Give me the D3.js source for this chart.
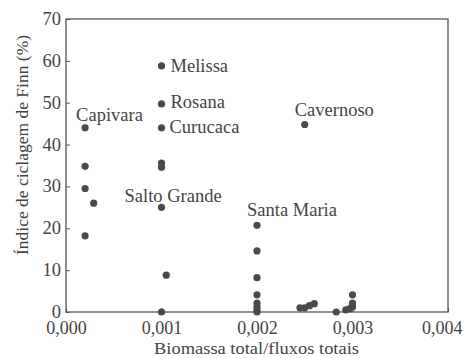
<!DOCTYPE html>
<html><head><meta charset="utf-8">
<script src="https://cdn.jsdelivr.net/npm/d3@7"></script>
<style>
body{margin:0;background:#fff;}
text{font-family:"Liberation Serif","Times New Roman",Times,serif;fill:#444;}
</style></head>
<body><svg id="c" width="464" height="358"></svg>
<script>
// data: Biomassa total/fluxos totais vs Índice de ciclagem de Finn (%)
const xValues = [0.0002,0.0002,0.0002,0.00029,0.0002,
  0.001,0.001,0.001,0.001,0.001,0.001,0.00105,0.001,
  0.0025,
  0.002,0.002,0.002,0.002,0.002,0.002,0.002,0.002,
  0.00245,0.0025,0.00255,0.0026,
  0.00283,0.00293,0.00297,0.003,0.003,0.003];
const yValues = [44,34.8,29.5,26,18.2,
  58.8,49.7,44,35.6,34.6,25,8.8,0,
  44.8,
  20.7,14.6,8.2,4.1,2.1,1.2,0.5,0,
  1,1,1.5,2,
  0,0.5,0.8,1.2,2.1,4.1];
const labelNames = ["Capivara","Melissa","Rosana","Curucaca","Salto Grande","Cavernoso","Santa Maria"];
const labelPointIndex = [0,5,6,7,10,13,14];
const xTicks = [0,0.001,0.002,0.003,0.004];
const xTickLabels = ["0,000","0,001","0,002","0,003","0,004"];
const yTicks = [0,10,20,30,40,50,60,70];
const xTitle = "Biomassa total/fluxos totais";
const yTitle = "Índice de ciclagem de Finn (%)";

// label offsets (styling)
const labelOffsets = {
  "Capivara":[-9,-7,"start"],
  "Melissa":[9,6,"start"],
  "Rosana":[9,4.5,"start"],
  "Curucaca":[8,5.5,"start"],
  "Salto Grande":[-37,-5,"start"],
  "Cavernoso":[-10,-8,"start"],
  "Santa Maria":[-10,-9.5,"start"]
};

const svg = d3.select("#c");
const L=66,R=448,T=19,B=312;
const x = d3.scaleLinear().domain([0,0.004]).range([L,R]);
const y = d3.scaleLinear().domain([0,70]).range([B,T]);
const axisColor="#555";
const fs=18.5, tfs=18;
const ff='"Liberation Serif","Times New Roman",Times,serif';

// frame
svg.append("rect").attr("x",L).attr("y",T).attr("width",R-L).attr("height",B-T)
  .attr("fill","none").attr("stroke",axisColor).attr("stroke-width",1.3);

// x axis
const xa = svg.append("g").attr("transform",`translate(0,${B})`)
  .call(d3.axisBottom(x).tickValues(xTicks).tickSize(-4).tickFormat((d,i)=>xTickLabels[i]).tickPadding(22));
xa.attr("font-family",ff);
xa.select(".domain").remove();
xa.selectAll("line").attr("stroke",axisColor);
xa.selectAll("text").attr("font-size",tfs).attr("fill","#444").attr("dy","0")
  .attr("text-anchor",(d,i)=>i===xTicks.length-1?"end":"middle")
  .attr("dx",(d,i)=>i===xTicks.length-1?14:0);

// y axis
const ya = svg.append("g").attr("transform",`translate(${L},0)`)
  .call(d3.axisLeft(y).tickValues(yTicks).tickSize(-4).tickPadding(5));
ya.attr("font-family",ff);
ya.select(".domain").remove();
ya.selectAll("line").attr("stroke",axisColor);
ya.selectAll("text").attr("font-size",fs).attr("fill","#444").attr("dy","0.3em");

// points
const pts = xValues.map((v,i)=>({x:v,y:yValues[i]}));
svg.append("g").selectAll("circle").data(pts).join("circle")
  .attr("cx",d=>x(d.x)).attr("cy",d=>y(d.y)).attr("r",3.6).attr("fill","#4a4a4a");

// labels
svg.append("g").selectAll("text").data(labelNames).join("text")
  .attr("x",(d,i)=>x(pts[labelPointIndex[i]].x)+labelOffsets[d][0])
  .attr("y",(d,i)=>y(pts[labelPointIndex[i]].y)+labelOffsets[d][1])
  .attr("text-anchor",d=>labelOffsets[d][2])
  .attr("font-size",fs).text(d=>d);

// titles
svg.append("text").attr("x",256.5).attr("y",354.2).attr("text-anchor","middle")
  .attr("font-size",17.5).attr("textLength",205).attr("lengthAdjust","spacingAndGlyphs").text(xTitle);
svg.append("text").attr("transform",`translate(28,145) rotate(-90)`)
  .attr("text-anchor","middle").attr("font-size",17.5).text(yTitle);
</script></body></html>
